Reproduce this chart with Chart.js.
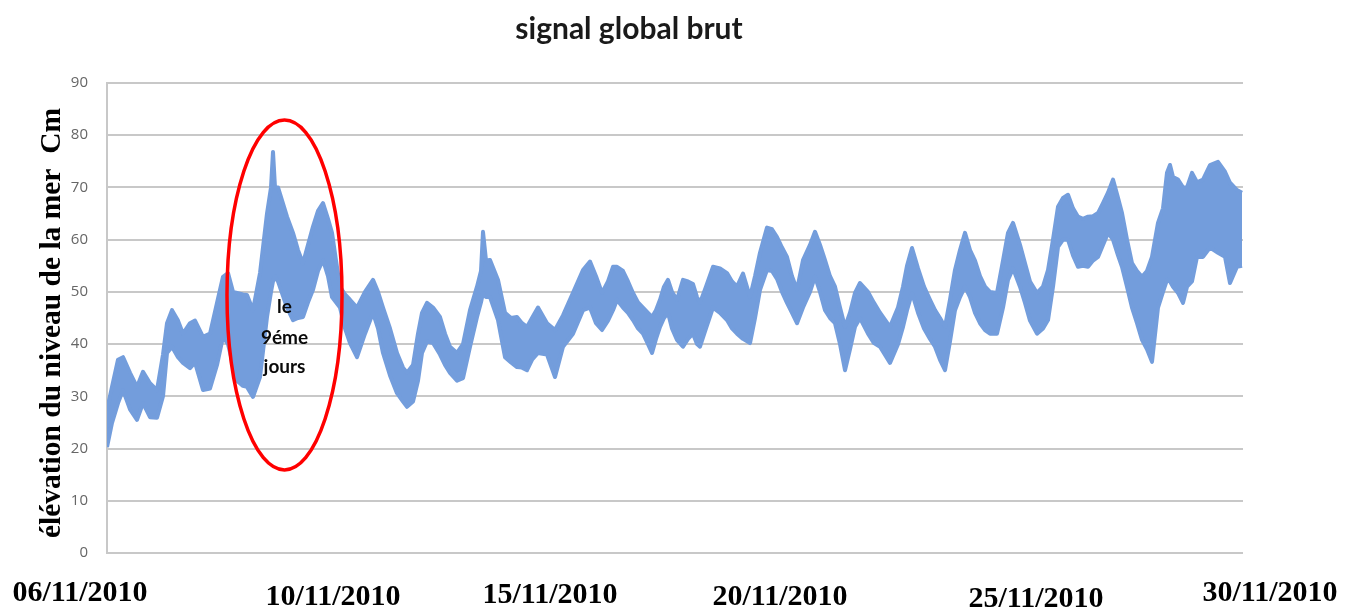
<!DOCTYPE html>
<html>
<head>
<meta charset="utf-8">
<script src="https://cdn.jsdelivr.net/npm/chart.js@4/dist/chart.umd.min.js"></script>
<style>
  html, body { margin: 0; padding: 0; background: #fff; }
  #wrap { width: 1348px; height: 612px; position: relative; }
</style>
</head>
<body>
<div id="wrap"><canvas id="signalChart"></canvas></div>
<script>
// numéro d'échantillon (pas de 30 min) et enveloppe haute / basse du signal brut (cm)
const samples = [
  0, 5, 11, 16, 23, 30, 36, 43, 50, 56, 60, 65, 71, 76, 83, 88, 96, 103, 110, 116,
  121, 126, 130, 136, 140, 146, 153, 160, 164, 166, 168, 171, 180, 186, 191, 196, 201, 206, 211, 216,
  221, 225, 229, 233, 238, 243, 250, 258, 266, 271, 276, 283, 290, 296, 300, 306, 311, 315, 320, 326,
  333, 338, 343, 350, 356, 363, 370, 374, 376, 379, 383, 391, 398, 404, 410, 415, 420, 425, 431, 440,
  448, 456, 466, 476, 483, 489, 495, 501, 506, 510, 516, 521, 526, 531, 536, 541, 545, 549, 553, 557,
  561, 565, 570, 576, 581, 586, 590, 593, 599, 606, 613, 620, 625, 630, 636, 643, 648, 653, 660, 665,
  670, 675, 680, 685, 690, 696, 703, 708, 713, 718, 723, 728, 733, 738, 743, 748, 753, 761, 767, 773,
  783, 791, 796, 800, 805, 811, 817, 823, 828, 833, 838, 843, 848, 853, 858, 863, 868, 873, 878, 883,
  890, 896, 901, 906, 913, 918, 923, 930, 936, 941, 946, 951, 956, 961, 966, 971, 976, 981, 986, 991,
  996, 1001, 1006, 1011, 1015, 1020, 1025, 1030, 1035, 1040, 1045, 1051, 1056, 1060, 1063, 1066, 1071, 1076, 1080, 1085,
  1090, 1096, 1103, 1111, 1118, 1123, 1130, 1135
];
const upper = [
  27.4, 31.8, 37.0, 37.5, 34.5, 31.8, 34.7, 32.5, 31.2, 38.0, 44.0, 46.5, 44.5, 42.0, 44.0, 44.5, 41.4, 42.0, 47.9, 52.9,
  53.6, 50.0, 49.8, 49.5, 49.4, 46.5, 53.6, 65.0, 70.0, 76.8, 70.0, 70.0, 64.4, 61.3, 58.0, 55.5, 59.0, 62.5, 65.5, 67.0,
  64.0, 61.3, 56.0, 51.0, 49.5, 48.5, 47.0, 50.0, 52.3, 50.0, 47.0, 43.0, 38.3, 35.5, 34.5, 36.0, 42.0, 46.0, 47.9, 47.0,
  45.2, 42.0, 39.5, 38.3, 40.0, 46.5, 51.0, 54.0, 61.5, 56.0, 56.1, 52.3, 46.0, 45.0, 45.2, 44.0, 43.3, 45.0, 47.0, 44.0,
  42.7, 45.5, 49.8, 54.2, 55.8, 53.0, 49.8, 52.0, 54.8, 54.8, 54.0, 52.0, 49.8, 48.0, 47.0, 46.0, 45.2, 46.5, 48.5, 51.0,
  52.3, 50.0, 48.5, 52.3, 52.0, 51.5, 49.0, 47.9, 51.0, 54.8, 54.5, 53.6, 52.0, 51.0, 53.5, 49.0, 53.0, 57.5, 62.3, 62.0,
  60.5, 58.5, 56.7, 53.0, 50.4, 56.1, 59.0, 61.5, 59.0, 56.1, 53.0, 51.0, 47.0, 43.3, 46.0, 49.8, 51.7, 50.0, 47.9, 46.0,
  43.3, 47.0, 51.0, 55.0, 58.4, 54.5, 51.0, 48.5, 46.5, 45.0, 43.3, 48.5, 54.2, 58.0, 61.3, 58.0, 56.0, 53.0, 51.0, 50.0,
  49.8, 56.0, 61.3, 63.2, 59.0, 55.5, 52.0, 49.8, 51.0, 54.2, 60.0, 66.3, 68.0, 68.6, 66.0, 64.4, 64.0, 64.4, 64.5, 65.1,
  67.0, 69.0, 71.5, 68.0, 65.1, 60.0, 55.5, 54.0, 52.9, 54.0, 56.7, 63.2, 66.0, 72.8, 74.3, 72.0, 71.5, 70.0, 70.0, 72.8,
  71.0, 71.5, 74.3, 74.9, 73.0, 70.9, 69.5, 69.0
];
const lower = [
  20.3, 24.9, 28.7, 31.2, 27.5, 25.5, 28.7, 26.0, 25.9, 30.0, 38.3, 39.5, 37.5, 36.4, 35.4, 36.5, 31.2, 31.5, 36.0, 41.4,
  40.0, 36.0, 33.0, 32.0, 31.8, 29.9, 33.7, 45.2, 50.0, 52.0, 53.0, 52.0, 47.0, 44.6, 45.0, 45.2, 48.0, 50.4, 54.0, 56.1,
  53.0, 49.0, 48.0, 47.0, 43.0, 40.2, 37.5, 42.0, 46.0, 43.0, 38.3, 34.0, 30.6, 29.0, 28.0, 29.0, 33.0, 38.3, 40.5, 40.2,
  38.0, 36.0, 34.5, 33.0, 33.5, 39.5, 45.2, 48.0, 49.8, 49.0, 49.0, 44.6, 37.5, 36.5, 35.6, 35.5, 35.0, 37.0, 38.3, 38.0,
  33.7, 39.5, 42.0, 46.5, 47.0, 44.0, 42.7, 44.5, 46.5, 48.5, 47.0, 46.0, 44.6, 43.0, 42.0, 40.0, 38.3, 41.0, 43.3, 45.0,
  46.0, 43.0, 40.8, 39.5, 41.0, 42.0, 40.0, 39.5, 43.0, 47.0, 46.0, 44.6, 43.0, 42.0, 41.0, 40.2, 45.0, 50.4, 54.2, 54.0,
  52.5, 50.0, 47.9, 46.0, 44.0, 47.0, 50.0, 52.9, 50.0, 46.5, 45.0, 44.0, 40.0, 35.0, 39.0, 43.3, 45.0, 42.0, 40.2, 39.5,
  36.4, 40.0, 43.3, 46.5, 49.8, 46.0, 43.0, 41.0, 39.5, 37.0, 35.0, 40.5, 46.5, 49.0, 51.0, 49.0, 46.0, 44.0, 42.7, 42.0,
  42.0, 47.0, 52.3, 54.5, 51.0, 47.9, 44.5, 42.0, 43.0, 44.6, 51.0, 58.6, 60.0, 60.0, 57.0, 54.8, 55.0, 54.8, 56.0, 56.7,
  59.0, 61.3, 60.0, 57.0, 54.8, 51.0, 47.0, 44.0, 40.8, 39.0, 36.6, 47.0, 50.0, 52.3, 52.0, 51.0, 49.8, 47.9, 51.0, 52.0,
  56.7, 56.7, 58.5, 57.5, 56.7, 51.7, 54.8, 55.0
];

// étiquettes de dates posées sous l'axe (position en numéro d'échantillon)
const dateLabels = ['06/11/2010', '10/11/2010', '15/11/2010', '20/11/2010', '25/11/2010', '30/11/2010'];
const dateSamples = [-27, 226, 443, 673, 929, 1163];
const dateShift = [0, 4, 2, 4, 6, 0];
const yTicks = [0, 10, 20, 30, 40, 50, 60, 70, 80, 90];

// zone entourée : le 9ème jour
const markCenter = { x: 177.5, y: 49.4 };
const markRadius = { x: 57.5, y: 33.5 };
const markLines = ['le', '9éme', 'jours'];
const markLineValues = [47.1, 41.2, 35.6];

const blue = '#739ddc';

const chartArea = { left: 107, right: 1243, top: 83, bottom: 553 };

// dessin des textes libres : titre, axe vertical, dates, ellipse
const decorPlugin = {
  id: 'decor',
  afterDatasetsDraw(chart) {
    const ctx = chart.ctx;
    const xs = chart.scales.x, ys = chart.scales.y;
    const cx = xs.getPixelForValue(markCenter.x);
    const cy = ys.getPixelForValue(markCenter.y);
    const rx = xs.getPixelForValue(markCenter.x + markRadius.x) - cx;
    const ry = cy - ys.getPixelForValue(markCenter.y + markRadius.y);
    ctx.save();
    ctx.strokeStyle = '#ff0000';
    ctx.lineWidth = 3.5;
    ctx.beginPath();
    ctx.ellipse(cx, cy, rx, ry, 0, 0, Math.PI * 2);
    ctx.stroke();

    ctx.fillStyle = '#0a0a0a';
    ctx.font = 'bold 19px Lato';
    ctx.textAlign = 'center';
    ctx.textBaseline = 'middle';
    markLines.forEach((t, i) => {
      ctx.fillText(t, cx, ys.getPixelForValue(markLineValues[i]));
    });
    ctx.restore();
  },
  afterDraw(chart) {
    const ctx = chart.ctx;
    const xs = chart.scales.x, ys = chart.scales.y;
    ctx.save();
    // titre
    ctx.fillStyle = '#1a1a1a';
    ctx.font = 'bold 30px Lato';
    ctx.textAlign = 'center';
    ctx.textBaseline = 'middle';
    ctx.fillText('signal global brut', 629, 29);

    // titre de l'axe vertical
    ctx.save();
    ctx.translate(52, (ys.top + ys.bottom) / 2 + 5);
    ctx.rotate(-Math.PI / 2);
    ctx.fillStyle = '#000';
    ctx.font = 'bold 29.5px "Liberation Serif"';
    ctx.fillText('élévation du niveau de la mer  Cm', 0, 0);
    ctx.restore();

    // dates
    ctx.fillStyle = '#000';
    ctx.font = 'bold 30px "Liberation Serif"';
    dateLabels.forEach((t, i) => {
      ctx.fillText(t, xs.getPixelForValue(dateSamples[i]), ys.bottom + 40 + dateShift[i]);
    });
    ctx.restore();
  }
};

new Chart(document.getElementById('signalChart'), {
  type: 'line',
  data: {
    datasets: [
      {
        label: 'enveloppe haute',
        data: samples.map((s, i) => ({ x: s, y: upper[i] })),
        borderColor: blue,
        borderWidth: 4,
        borderJoinStyle: 'round',
        pointRadius: 0,
        tension: 0,
        fill: false
      },
      {
        label: 'enveloppe basse',
        data: samples.map((s, i) => ({ x: s, y: lower[i] })),
        borderColor: blue,
        backgroundColor: blue,
        borderWidth: 4,
        borderJoinStyle: 'round',
        pointRadius: 0,
        tension: 0,
        fill: '-1'
      }
    ]
  },
  options: {
    responsive: true,
    maintainAspectRatio: false,
    animation: false,
    layout: {
      padding: { left: 0, right: 1348 - chartArea.right, top: chartArea.top, bottom: 612 - chartArea.bottom }
    },
    plugins: {
      legend: { display: false },
      tooltip: { enabled: false },
      title: { display: false }
    },
    scales: {
      x: {
        type: 'linear',
        min: 0,
        max: 1136,
        display: false
      },
      y: {
        min: 0,
        max: 90,
        afterBuildTicks(scale) {
          scale.ticks = yTicks.map(v => ({ value: v }));
        },
        afterFit(scale) {
          scale.width = chartArea.left;
        },
        ticks: {
          color: '#666666',
          padding: 19,
          font: { family: 'Open Sans', size: 15 }
        },
        grid: {
          color: '#c8c8c8',
          lineWidth: 2,
          drawTicks: false
        },
        border: { color: '#c8c8c8', width: 2 }
      }
    }
  },
  plugins: [decorPlugin]
});
</script>
</body>
</html>
